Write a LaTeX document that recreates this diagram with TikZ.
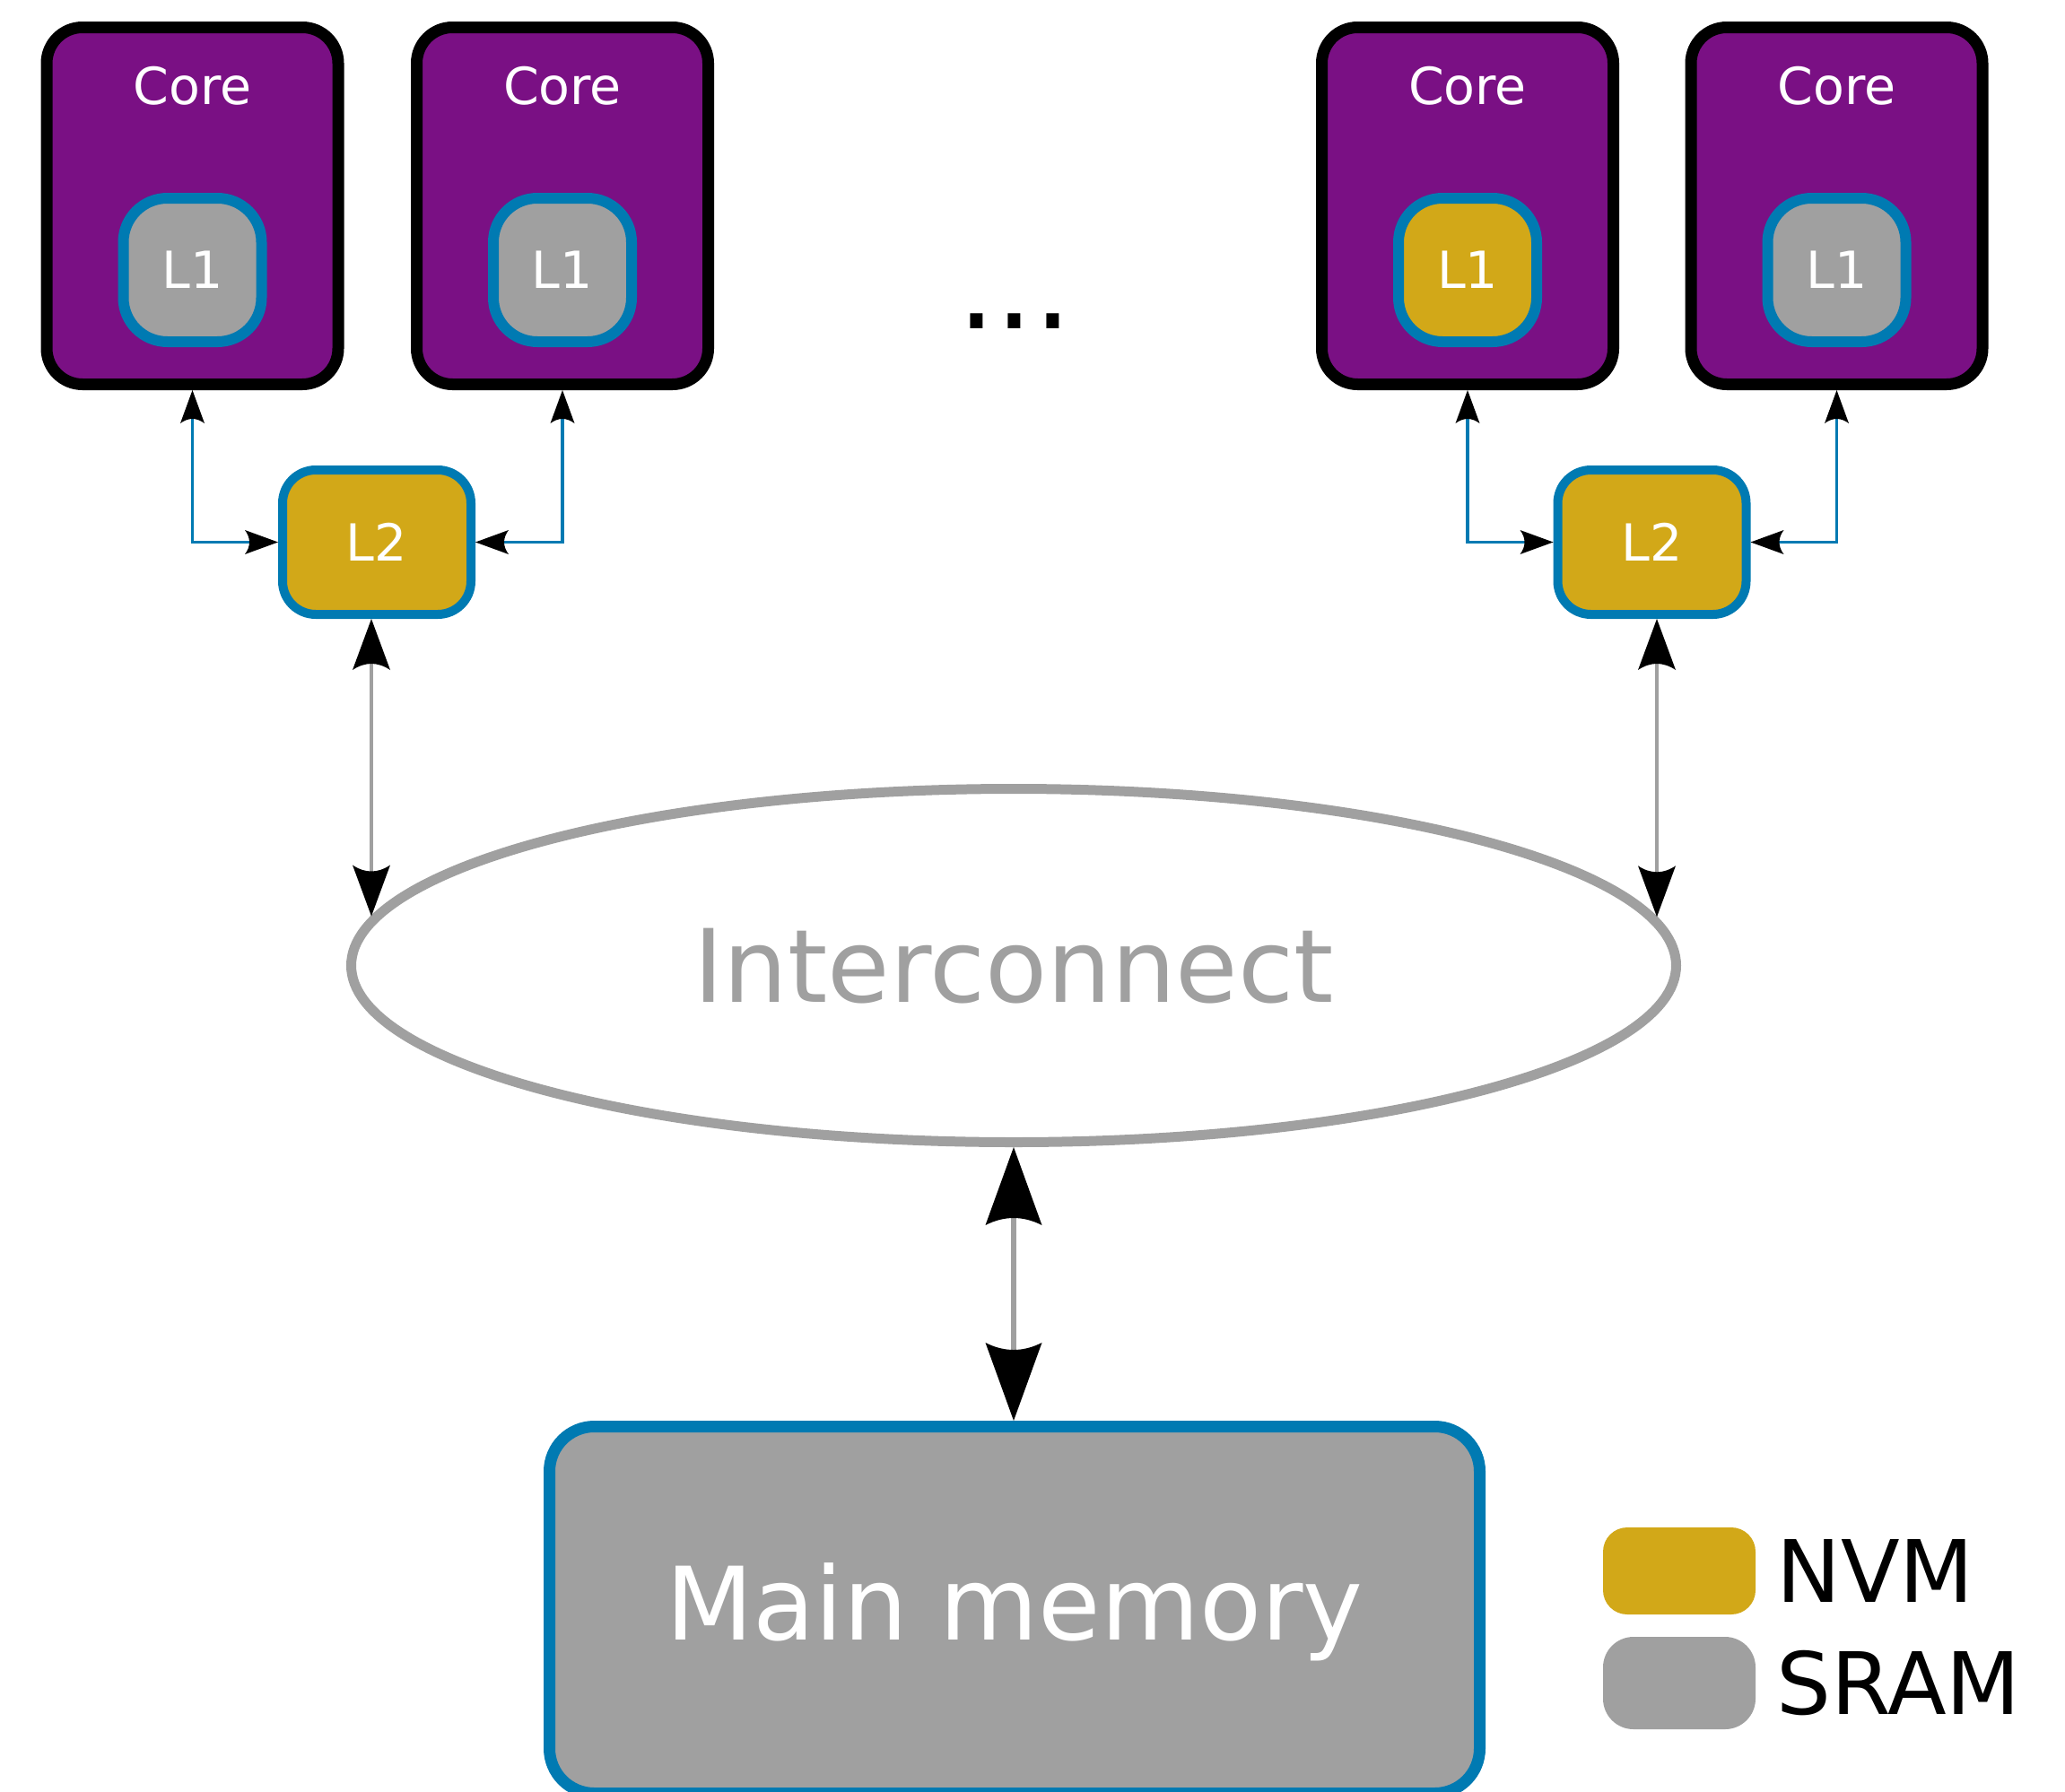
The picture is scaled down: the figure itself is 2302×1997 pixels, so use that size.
\documentclass[tikz,border=0pt]{standalone}
\usepackage{fontspec}
\setmainfont{DejaVu Sans}
\usetikzlibrary{arrows.meta,shapes.geometric,calc}
\definecolor{corepurple}{RGB}{122,16,132}
\definecolor{nvmgold}{RGB}{210,168,24}
\definecolor{cacheblue}{RGB}{0,122,178}
\definecolor{sramgray}{RGB}{160,160,160}
\newdimen\cavtmp
\pgfdeclarearrow{
  name = Cav,
  parameters = {\the\pgfarrowlength,\the\pgfarrowwidth,\the\pgfarrowinset},
  setup code = {
    \pgfarrowssettipend{0pt}
    \pgfarrowssetbackend{-\pgfarrowlength}
    \cavtmp=\pgfarrowlength
    \advance\cavtmp by -\pgfarrowinset
    \advance\cavtmp by -1pt
    \pgfarrowssetlineend{-\cavtmp}
    \pgfarrowssavethe\pgfarrowlength
    \pgfarrowssavethe\pgfarrowwidth
    \pgfarrowssavethe\pgfarrowinset
  },
  drawing code = {
    \pgfpathmoveto{\pgfpoint{0pt}{0pt}}
    \pgfpathlineto{\pgfpoint{-\pgfarrowlength}{0.5*\pgfarrowwidth}}
    \pgfpathcurveto
      {\pgfpoint{-\pgfarrowlength+1.333*\pgfarrowinset}{0.166*\pgfarrowwidth}}
      {\pgfpoint{-\pgfarrowlength+1.333*\pgfarrowinset}{-0.166*\pgfarrowwidth}}
      {\pgfpoint{-\pgfarrowlength}{-0.5*\pgfarrowwidth}}
    \pgfpathclose
    \pgfusepathqfill
  },
  defaults = {length=10pt, width=8pt, inset=2pt}
}
\begin{document}
\begin{tikzpicture}[x=0.5pt, y=-0.5pt,
  core/.style={draw=black, fill=corepurple, line width=6.5pt, rounded corners=20pt,
    minimum width=162.5pt, minimum height=199pt, inner sep=0pt},
  coretext/.style={text=white, font=\fontsize{28.5pt}{30pt}\selectfont, inner sep=0pt, anchor=base},
  cachetxt/.style={text=white, font=\fontsize{28.5pt}{30pt}\selectfont,
    text height=20.8pt, text depth=0pt, inner sep=0pt},
  lone/.style={cachetxt, draw=cacheblue, line width=6pt, rounded corners=24.5pt,
    minimum width=77pt, minimum height=80pt},
  ltwo/.style={cachetxt, draw=cacheblue, fill=nvmgold, line width=5pt, rounded corners=18.5pt,
    minimum width=105pt, minimum height=80.5pt},
  icnode/.style={ellipse, draw=sramgray, fill=white, line width=5.5pt, minimum width=738.5pt,
    minimum height=197pt, inner sep=0pt, text=sramgray,
    font=\fontsize{56.5pt}{60pt}\selectfont, text height=41.2pt, text depth=0pt},
  mmnode/.style={draw=cacheblue, fill=sramgray, line width=6.5pt, rounded corners=25pt,
    minimum width=518.5pt, minimum height=204.5pt, inner sep=0pt, text=white,
    font=\fontsize{56.5pt}{60pt}\selectfont, text height=41.2pt, text depth=8pt},
  legbox/.style={draw=none, inner sep=0pt, minimum width=85pt},
  legtext/.style={text=black, font=\fontsize{48pt}{50pt}\selectfont, inner sep=0pt, anchor=base west},
  blueconn/.style={draw=cacheblue, line width=1.6pt, <->,
    >={Cav[length=18.5pt,width=13.5pt,inset=2.5pt,color=black]}},
  grayconn/.style={draw=sramgray, line width=2pt, <->,
    >={Cav[length=28.5pt,width=21pt,inset=3.5pt,color=black]}},
  mainconn/.style={draw=sramgray, line width=3pt, <->,
    >={Cav[length=43.5pt,width=31.5pt,inset=4pt,color=black]}}
]
\useasboundingbox (0,0) rectangle (2302,1997);
\fill[white] (0,0) rectangle (2302,1997);

% cores
\node[core] (c1) at (214.5,229.5) {};
\node[core] (c2) at (627,229.5) {};
\node[core] (c3) at (1636,229.5) {};
\node[core] (c4) at (2047.5,229.5) {};
\node[coretext] (c1t) at ([yshift=-46pt]c1.north) {Core};
\node[coretext] (c2t) at ([yshift=-46pt]c2.north) {Core};
\node[coretext] (c3t) at ([yshift=-46pt]c3.north) {Core};
\node[coretext] (c4t) at ([yshift=-46pt]c4.north) {Core};

% L1 caches
\node[lone, fill=sramgray] (l1a) at (214.5,301) {L1};
\node[lone, fill=sramgray] (l1b) at (627,301) {L1};
\node[lone, fill=nvmgold] (l1c) at (1636,301) {L1};
\node[lone, fill=sramgray] (l1d) at (2047.5,301) {L1};

% dots
\node[font=\fontsize{67.5pt}{70pt}\selectfont, anchor=base west, inner sep=0pt] (dots) at (1066.6,366) {...};

% L2 caches
\node[ltwo] (l2a) at (420,604.5) {L2};
\node[ltwo] (l2b) at (1841.5,604.5) {L2};

% interconnect
\node[icnode] (ic) at (1130,1076.5) {Interconnect};

% main memory
\node[mmnode] (mm) at (1131,1795) {Main memory};

% legend
\node[legbox, fill=nvmgold, minimum height=48.5pt, rounded corners=13.5pt] (nvmbox) at (1872,1751.5) {};
\node[legbox, fill=sramgray, minimum height=51.5pt, rounded corners=17pt] (srambox) at (1872,1876.5) {};
\node[legtext] (nvmtxt) at (1980,1786) {NVM};
\node[legtext] (sramtxt) at (1980,1911) {SRAM};

% connectors
\draw[blueconn] (c1.south) |- (l2a.west);
\draw[blueconn] (c2.south) |- (l2a.east);
\draw[blueconn] (c3.south) |- (l2b.west);
\draw[blueconn] (c4.south) |- (l2b.east);
\draw[grayconn] ([xshift=-3pt]l2a.south) -- ($(ic.center)+(-716,-55)$);
\draw[grayconn] ([xshift=2.75pt]l2b.south) -- ($(ic.center)+(717,-54.2)$);
\draw[mainconn] (ic.south) -- (ic.south |- mm.north);
\end{tikzpicture}
\end{document}
